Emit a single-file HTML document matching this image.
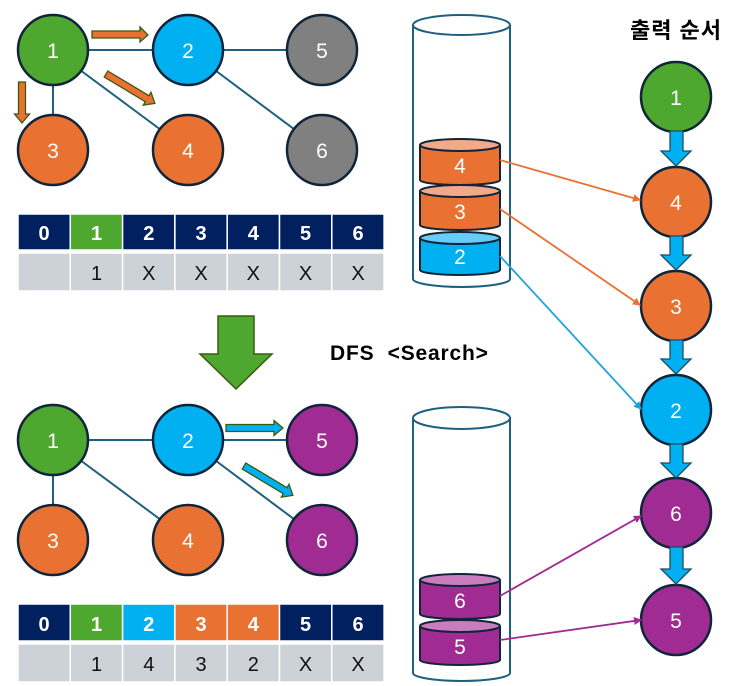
<!DOCTYPE html>
<html><head><meta charset="utf-8"><style>html,body{margin:0;padding:0;background:#fff}svg{display:block}</style></head><body>
<svg width="740" height="686" viewBox="0 0 740 686" xmlns="http://www.w3.org/2000/svg" font-family="'Liberation Sans','Noto Sans CJK KR',sans-serif">
<defs>
<marker id="mo" markerWidth="8" markerHeight="8" refX="7" refY="4" orient="auto" markerUnits="userSpaceOnUse"><path d="M0,0 L8,4 L0,8 z" fill="#E97132"/></marker>
<marker id="mb" markerWidth="8" markerHeight="8" refX="7" refY="4" orient="auto" markerUnits="userSpaceOnUse"><path d="M0,0 L8,4 L0,8 z" fill="#1FA3D8"/></marker>
<marker id="mp" markerWidth="8" markerHeight="8" refX="7" refY="4" orient="auto" markerUnits="userSpaceOnUse"><path d="M0,0 L8,4 L0,8 z" fill="#A02B93"/></marker>
</defs>
<g stroke="#1F5F80" stroke-width="2">
<line x1="53" y1="50" x2="188" y2="50"/><line x1="188" y1="50" x2="322" y2="50"/>
<line x1="53" y1="50" x2="53" y2="150"/><line x1="53" y1="50" x2="188" y2="150"/><line x1="188" y1="50" x2="322" y2="150"/>
<line x1="53" y1="440" x2="188" y2="440"/><line x1="188" y1="440" x2="322" y2="440"/>
<line x1="53" y1="440" x2="53" y2="540"/><line x1="53" y1="440" x2="188" y2="540"/><line x1="188" y1="440" x2="322" y2="540"/>
</g>
<g stroke="#10253A" stroke-width="2.5">
<circle cx="53" cy="50" r="35" fill="#4EA72E"/><circle cx="188" cy="50" r="35" fill="#00B0F0"/><circle cx="322" cy="50" r="35" fill="#808080"/>
<circle cx="53" cy="150" r="35" fill="#E97132"/><circle cx="188" cy="150" r="35" fill="#E97132"/><circle cx="322" cy="150" r="35" fill="#808080"/>
<circle cx="53" cy="440" r="35" fill="#4EA72E"/><circle cx="188" cy="440" r="35" fill="#00B0F0"/><circle cx="322" cy="440" r="35" fill="#A02B93"/>
<circle cx="53" cy="540" r="35" fill="#E97132"/><circle cx="188" cy="540" r="35" fill="#E97132"/><circle cx="322" cy="540" r="35" fill="#A02B93"/>
<circle cx="676" cy="97" r="35" fill="#4EA72E"/><circle cx="676" cy="202" r="35" fill="#E97132"/><circle cx="676" cy="306" r="35" fill="#E97132"/>
<circle cx="676" cy="410" r="35" fill="#00B0F0"/><circle cx="676" cy="513" r="35" fill="#A02B93"/><circle cx="676" cy="620" r="35" fill="#A02B93"/>
</g>
<g font-size="21" fill="#fff" text-anchor="middle">
<text x="53" y="58">1</text><text x="188" y="58">2</text><text x="322" y="58">5</text>
<text x="53" y="158">3</text><text x="188" y="158">4</text><text x="322" y="158">6</text>
<text x="53" y="448">1</text><text x="188" y="448">2</text><text x="322" y="448">5</text>
<text x="53" y="548">3</text><text x="188" y="548">4</text><text x="322" y="548">6</text>
<text x="676" y="105">1</text><text x="676" y="210">4</text><text x="676" y="314">3</text>
<text x="676" y="418">2</text><text x="676" y="521">6</text><text x="676" y="628">5</text>
</g>
<g fill="#E97132" stroke="#3A5A10" stroke-width="1.3">
<path d="M92,31 L140,31 L140,27 L148,35 L140,42 L140,38 L92,38 z"/>
<g transform="translate(106,74) rotate(31)"><path d="M0,-3.5 L48,-3.5 L48,-7.5 L57,0 L48,7.5 L48,3.5 L0,3.5 z"/></g>
<g transform="translate(22,82) rotate(90)"><path d="M0,-3.5 L32,-3.5 L32,-7.5 L41,0 L32,7.5 L32,3.5 L0,3.5 z"/></g>
</g>
<g fill="#00B0F0" stroke="#3A5A10" stroke-width="1.3">
<g transform="translate(226,428)"><path d="M0,-3.5 L48,-3.5 L48,-7.5 L57,0 L48,7.5 L48,3.5 L0,3.5 z"/></g>
<g transform="translate(244,466) rotate(31)"><path d="M0,-3.5 L48,-3.5 L48,-7.5 L57,0 L48,7.5 L48,3.5 L0,3.5 z"/></g>
</g>
<path d="M218,316 L254,316 L254,354 L272,354 L236,389 L200,354 L218,354 z" fill="#4EA72E" stroke="#3A5A10" stroke-width="1.5"/>
<g fill="#00B0F0" stroke="#1F4E60" stroke-width="1.3">
<path d="M670,131 L683,131 L683,151 L691,151 L676,166 L661,151 L670,151 z"/>
<path d="M670,236 L683,236 L683,255 L691,255 L676,270 L661,255 L670,255 z"/>
<path d="M670,340 L683,340 L683,359 L691,359 L676,374 L661,359 L670,359 z"/>
<path d="M670,444 L683,444 L683,463 L691,463 L676,478 L661,463 L670,463 z"/>
<path d="M670,547 L683,547 L683,569 L691,569 L676,584 L661,569 L670,569 z"/>
</g>
<g fill="#fff" stroke="#1F5F80" stroke-width="2">
<path d="M413,25 L413,279 A48.5,8 0 0 0 510,279 L510,25"/>
<ellipse cx="461.5" cy="25" rx="48.5" ry="10"/>
<path d="M413,418 L413,673 A48.5,8 0 0 0 510,673 L510,418"/>
<ellipse cx="461.5" cy="418" rx="48.5" ry="11"/>
</g>
<g stroke="#10253A" stroke-width="2">
<path d="M420,145 L420,180 A40,5 0 0 0 500,180 L500,145" fill="#E97132"/><ellipse cx="460" cy="145" rx="40" ry="6" fill="#F2A98A"/>
<path d="M420,191 L420,225 A40,5 0 0 0 500,225 L500,191" fill="#E97132"/><ellipse cx="460" cy="191" rx="40" ry="6" fill="#F2A98A"/>
<path d="M420,238 L420,270 A40,5 0 0 0 500,270 L500,238" fill="#00B0F0"/><ellipse cx="460" cy="238" rx="40" ry="6" fill="#66CCF5"/>
<path d="M420,580 L420,614 A40,5 0 0 0 500,614 L500,580" fill="#A02B93"/><ellipse cx="460" cy="580" rx="40" ry="6" fill="#C97DBE"/>
<path d="M420,626 L420,660 A40,5 0 0 0 500,660 L500,626" fill="#A02B93"/><ellipse cx="460" cy="626" rx="40" ry="6" fill="#C97DBE"/>
</g>
<g font-size="21" fill="#fff" text-anchor="middle">
<text x="460" y="173">4</text><text x="460" y="219">3</text><text x="460" y="264">2</text>
<text x="460" y="608">6</text><text x="460" y="654">5</text>
</g>
<line x1="500" y1="160" x2="640" y2="200" stroke="#E97132" stroke-width="1.8" marker-end="url(#mo)"/>
<line x1="500" y1="209" x2="640" y2="305" stroke="#E97132" stroke-width="1.8" marker-end="url(#mo)"/>
<line x1="500" y1="256" x2="641" y2="409" stroke="#1FA3D8" stroke-width="1.8" marker-end="url(#mb)"/>
<line x1="500" y1="596" x2="641" y2="516" stroke="#A02B93" stroke-width="1.8" marker-end="url(#mp)"/>
<line x1="500" y1="640" x2="641" y2="620" stroke="#A02B93" stroke-width="1.8" marker-end="url(#mp)"/>
<text x="676" y="38" font-size="22" font-weight="bold" text-anchor="middle" fill="#000" letter-spacing="1">출력 순서</text>
<text x="330" y="360" font-size="21" font-weight="bold" fill="#000" letter-spacing="0.8" xml:space="preserve">DFS  &lt;Search&gt;</text>
<g stroke="#fff" stroke-width="1.5">
<rect x="18" y="214" width="52.3" height="36" fill="#002060"/><rect x="70.3" y="214" width="52.3" height="36" fill="#4EA72E"/>
<rect x="122.6" y="214" width="52.3" height="36" fill="#002060"/><rect x="174.9" y="214" width="52.3" height="36" fill="#002060"/>
<rect x="227.2" y="214" width="52.3" height="36" fill="#002060"/><rect x="279.5" y="214" width="52.3" height="36" fill="#002060"/>
<rect x="331.8" y="214" width="52.3" height="36" fill="#002060"/>
<rect x="18" y="253" width="52.3" height="38" fill="#CDD2D8"/><rect x="70.3" y="253" width="52.3" height="38" fill="#CDD2D8"/>
<rect x="122.6" y="253" width="52.3" height="38" fill="#CDD2D8"/><rect x="174.9" y="253" width="52.3" height="38" fill="#CDD2D8"/>
<rect x="227.2" y="253" width="52.3" height="38" fill="#CDD2D8"/><rect x="279.5" y="253" width="52.3" height="38" fill="#CDD2D8"/>
<rect x="331.8" y="253" width="52.3" height="38" fill="#CDD2D8"/>
<rect x="18" y="604" width="52.3" height="37" fill="#002060"/><rect x="70.3" y="604" width="52.3" height="37" fill="#4EA72E"/>
<rect x="122.6" y="604" width="52.3" height="37" fill="#00B0F0"/><rect x="174.9" y="604" width="52.3" height="37" fill="#E97132"/>
<rect x="227.2" y="604" width="52.3" height="37" fill="#E97132"/><rect x="279.5" y="604" width="52.3" height="37" fill="#002060"/>
<rect x="331.8" y="604" width="52.3" height="37" fill="#002060"/>
<rect x="18" y="644" width="52.3" height="38" fill="#CDD2D8"/><rect x="70.3" y="644" width="52.3" height="38" fill="#CDD2D8"/>
<rect x="122.6" y="644" width="52.3" height="38" fill="#CDD2D8"/><rect x="174.9" y="644" width="52.3" height="38" fill="#CDD2D8"/>
<rect x="227.2" y="644" width="52.3" height="38" fill="#CDD2D8"/><rect x="279.5" y="644" width="52.3" height="38" fill="#CDD2D8"/>
<rect x="331.8" y="644" width="52.3" height="38" fill="#CDD2D8"/>
</g>
<g font-size="20" font-weight="bold" fill="#fff" text-anchor="middle">
<text x="44" y="240">0</text><text x="96.5" y="240">1</text><text x="148.8" y="240">2</text><text x="201" y="240">3</text><text x="253.3" y="240">4</text><text x="305.6" y="240">5</text><text x="358" y="240">6</text>
<text x="44" y="631">0</text><text x="96.5" y="631">1</text><text x="148.8" y="631">2</text><text x="201" y="631">3</text><text x="253.3" y="631">4</text><text x="305.6" y="631">5</text><text x="358" y="631">6</text>
</g>
<g font-size="20" fill="#111" text-anchor="middle">
<text x="96.5" y="280">1</text><text x="148.8" y="280">X</text><text x="201" y="280">X</text><text x="253.3" y="280">X</text><text x="305.6" y="280">X</text><text x="358" y="280">X</text>
<text x="96.5" y="671">1</text><text x="148.8" y="671">4</text><text x="201" y="671">3</text><text x="253.3" y="671">2</text><text x="305.6" y="671">X</text><text x="358" y="671">X</text>
</g>
</svg>
</body></html>
